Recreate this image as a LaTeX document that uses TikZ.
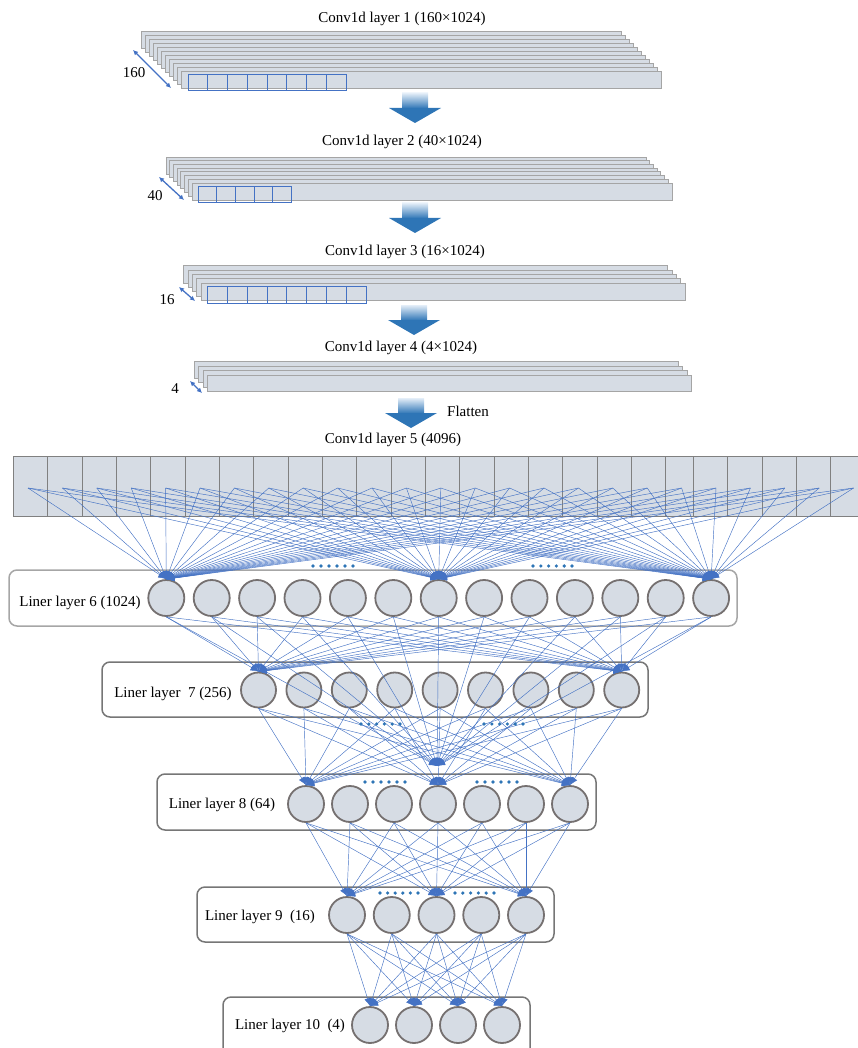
\documentclass[tikz,border=0pt]{standalone}
\usepackage{fontspec}
\setmainfont{Liberation Serif}
\usetikzlibrary{arrows.meta}
\definecolor{slab}{HTML}{D6DCE4}
\definecolor{slabedge}{HTML}{A5A5A5}
\definecolor{nodeedge}{HTML}{757070}
\definecolor{linkblue}{HTML}{4472C4}
\definecolor{arrowBlue}{HTML}{2E75B6}
\definecolor{arrowTop}{HTML}{E4EEF8}
\definecolor{boxedge}{HTML}{767676}
\definecolor{boxlight}{HTML}{A6A6A6}
\begin{document}
\begin{tikzpicture}[x=1pt,y=-1pt,
  lbl/.style={font=\fontsize{15}{18}\selectfont, inner sep=0pt},
  neuron/.style={circle, draw=nodeedge, line width=1.8pt, fill=slab, minimum size=35pt, inner sep=0pt},
  layerbox/.style={draw=boxedge, line width=1.5pt, rounded corners=8pt, fill=white},
  link/.style={draw=linkblue, line width=0.45pt, -{Latex[length=8pt,width=6.5pt,fill=linkblue]}},
  slabbox/.style={fill=slab, draw=slabedge, line width=0.9pt},
  cellbox/.style={draw=linkblue, line width=0.8pt},
  dimarrow/.style={draw=linkblue, line width=1.3pt, {Latex[length=5pt,width=5pt]}-{Latex[length=5pt,width=5pt]}},
  dotmark/.style={circle, fill=arrowBlue, inner sep=0pt, minimum size=3.6pt},
  downarrow/.pic={
    \shade[top color=arrowTop, bottom color=arrowBlue] (-13,0) rectangle (13,15.5);
    \fill[arrowBlue] (-26,15) -- (26,15) -- (0,30) -- cycle;
  }
]
\useasboundingbox (0,0) rectangle (857,1048);

% ---------- Conv1d layer 1 ----------
\node[lbl] (t1) at (402,19) {Conv1d layer 1 (160×1024)};
\foreach \k in {10,...,0} \draw[slabbox] ({181-4*\k},{71-4*\k}) rectangle ++(480,17);
\foreach \i in {0,...,7} \draw[cellbox] ({188+19.75*\i},74) rectangle ++(19.75,16);
\node[lbl] (d1) at (134,73) {160};
\coordinate (d1a) at (133,50); \coordinate (d1b) at (171,88);
\draw[dimarrow] (d1a) -- (d1b);
\pic at (415,93) {downarrow};

% ---------- Conv1d layer 2 ----------
\node[lbl] (t2) at (402,142) {Conv1d layer 2 (40×1024)};
\foreach \k in {7,...,0} \draw[slabbox] ({192-3.7*\k},{183-3.7*\k}) rectangle ++(480,17);
\foreach \i in {0,...,4} \draw[cellbox] ({198+18.7*\i},186) rectangle ++(18.7,16.5);
\node[lbl] (d2) at (155,196) {40};
\coordinate (d2a) at (159,177); \coordinate (d2b) at (184,200);
\draw[dimarrow] (d2a) -- (d2b);
\pic at (415,203) {downarrow};

% ---------- Conv1d layer 3 ----------
\node[lbl] (t3) at (405,252) {Conv1d layer 3 (16×1024)};
\foreach \k in {4,...,0} \draw[slabbox] ({201-4.3*\k},{283-4.3*\k}) rectangle ++(484,17.5);
\foreach \i in {0,...,7} \draw[cellbox] ({207.4+19.85*\i},286.5) rectangle ++(19.85,16.5);
\node[lbl] (d3) at (167,300) {16};
\coordinate (d3a) at (179,287); \coordinate (d3b) at (195,301);
\draw[dimarrow] (d3a) -- (d3b);
\pic at (414,305) {downarrow};

% ---------- Conv1d layer 4 ----------
\node[lbl] (t4) at (401,348) {Conv1d layer 4 (4×1024)};
\foreach \k in {3,...,0} \draw[slabbox] ({207.5-4.5*\k},{375-4.5*\k}) rectangle ++(484,16.5);
\node[lbl] (d4) at (175,389) {4};
\coordinate (d4a) at (190,381); \coordinate (d4b) at (202,393);
\draw[dimarrow] (d4a) -- (d4b);
\pic at (411,398) {downarrow};
\node[lbl, anchor=west] (fl) at (447,411) {Flatten};

% ---------- Conv1d layer 5 ----------
\node[lbl] (t5) at (393,440) {Conv1d layer 5 (4096)};
\draw[slabbox, draw=gray, line width=1pt] (13,456) rectangle (858,516);
\foreach \x in {47.7,82,116.3,150.7,185,219.3,253.7,288,322.3,356.7,391,425.3,459.7,494,528.3,562.7,597,631.3,665.7,693.3,727.7,762,796.3,830}
  \draw[draw=gray, line width=0.9pt] (\x,456) -- (\x,516);
\foreach \i in {1,...,25} \coordinate (s\i) at ({28+34.4*(\i-1)},488);

% ---------- Linear layers: boxes ----------
\draw[layerbox, draw=boxlight] (9,570) rectangle (737,626);
\draw[layerbox] (102,662) rectangle (648,717);
\draw[layerbox] (157,774) rectangle (596,830);
\draw[layerbox] (197,887) rectangle (554,942);
\draw[layerbox] (223,997) rectangle (530,1065);

\node[lbl] (n6) at (80,603) {Liner layer 6 (1024)};
\node[lbl] (n7) at (173,694) {Liner layer\ \ 7 (256)};
\node[lbl] (n8) at (222,805) {Liner layer 8 (64)};
\node[lbl] (n9) at (260,917) {Liner layer 9\ \ (16)};
\node[lbl] (n10) at (290,1026) {Liner layer 10\ \ (4)};

% ---------- neurons ----------
\foreach \i in {1,...,13} \node[neuron, minimum size=36pt] (l6c\i) at ({166.3+45.4*(\i-1)},598) {};
\foreach \i in {1,...,9} \node[neuron] (l7c\i) at ({258.5+45.4*(\i-1)},690) {};
\foreach \i in {1,...,7} \node[neuron, minimum size=36pt] (l8c\i) at ({306+44*(\i-1)},804) {};
\foreach \i in {1,...,5} \node[neuron, minimum size=36pt] (l9c\i) at ({347+44.75*(\i-1)},915) {};
\foreach \i in {1,...,4} \node[neuron, minimum size=36pt] (l10c\i) at ({370+44*(\i-1)},1025) {};
\coordinate (fp) at (437,766);

% ---------- links ----------
\foreach \i in {1,...,25} \foreach \t in {1,7,13} \draw[link] (s\i) -- (l6c\t.north);
\foreach \i in {1,...,13} {
  \draw[link] (l6c\i.south) -- (l7c1.north);
  \draw[link] (l6c\i.south) -- (l7c9.north);
  \draw[link] (l6c\i.south) -- (fp);
}
\foreach \i in {1,...,9} \foreach \t in {1,4,7} \draw[link] (l7c\i.south) -- (l8c\t.north);
\foreach \i in {1,...,7} \foreach \t in {1,3,5} \draw[link] (l8c\i.south) -- (l9c\t.north);
\foreach \i in {1,...,5} \foreach \t in {1,...,4} \draw[link] (l9c\i.south) -- (l10c\t.north);

% ---------- dots ----------
\foreach \i in {0,...,5} {
  \node[dotmark] (p6a\i) at ({313+8*\i},566) {};
  \node[dotmark] (p6b\i) at ({533+7.8*\i},566) {};
  \node[dotmark] (p7a\i) at ({361+7.8*\i},724) {};
  \node[dotmark] (p7b\i) at ({484+7.8*\i},724) {};
  \node[dotmark] (p8a\i) at ({365+8*\i},782) {};
  \node[dotmark] (p8b\i) at ({477+8*\i},782) {};
  \node[dotmark] (p9a\i) at ({380+7.6*\i},893) {};
  \node[dotmark] (p9b\i) at ({455+7.8*\i},893) {};
}
\end{tikzpicture}
\end{document}
